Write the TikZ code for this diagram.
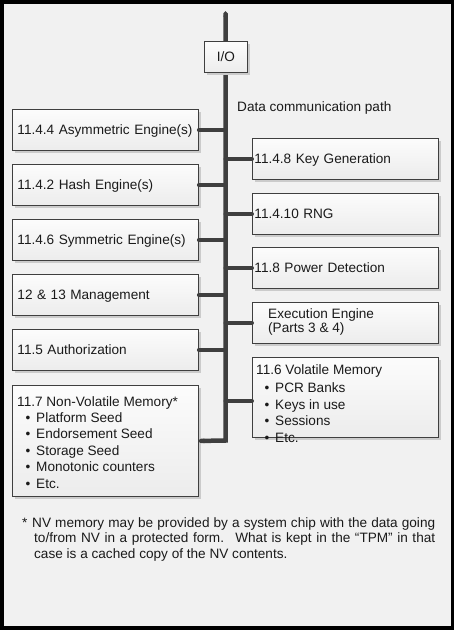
\documentclass[tikz,border=0pt]{standalone}
\usepackage{fontspec}
\setmainfont{Liberation Sans}
\usetikzlibrary{shadows,arrows.meta}
\definecolor{bgc}{HTML}{F1F1F1}
\definecolor{linec}{HTML}{3F3F3F}
\definecolor{boxtop}{HTML}{FCFCFC}
\definecolor{boxbot}{HTML}{ECECEC}
\definecolor{shadowc}{HTML}{CBCBCB}
\definecolor{txtc}{HTML}{1A1A1A}
\newcommand\bulitem{\hspace*{8.5pt}\makebox[10.5pt][l]{\textbullet}}
\begin{document}
\begin{tikzpicture}[x=1pt,y=-1pt,
  every node/.style={font=\fontsize{13.6}{16.4}\selectfont, text=txtc},
  box/.style={draw=linec, line width=0.9pt, top color=boxtop, bottom color=boxbot,
    drop shadow={shadow xshift=3pt, shadow yshift=-3pt, fill=shadowc, opacity=1},
    anchor=north west, minimum width=186pt, minimum height=41pt, inner sep=0pt},
  lbox/.style={box, text width=176pt, inner xsep=5pt, align=left, text height=11pt, text depth=1pt},
  rbox/.style={box, text width=182pt, inner xsep=2pt, align=left, text height=11pt, text depth=1pt},
  plain/.style={anchor=base west, inner sep=0pt, align=left},
  bus/.style={draw=linec, line width=4.5pt, line join=miter},
  conn/.style={draw=linec, line width=4pt, line cap=round}]
% frame and background
\fill[black] (0,0) rectangle (454,630);
\fill[bgc] (3.5,3.5) rectangle (450.5,626);
\useasboundingbox (0,0) rectangle (454,630);
% left boxes
\node[lbox] (asym) at (12,109) {11.4.4 Asymmetric Engine(s)};
\node[lbox] (hash) at (12,164) {11.4.2 Hash Engine(s)};
\node[lbox] (sym)  at (12,219) {11.4.6 Symmetric Engine(s)};
\node[lbox] (mgmt) at (12,274) {12 \& 13 Management};
\node[lbox] (auth) at (12,329) {11.5 Authorization};
\node[box, minimum height=111pt] (nv) at (12,385) {};
% anchor base = baseline of the last line
\node[plain] (nvtext) at (17,488) {11.7 Non-Volatile Memory*\\
\bulitem Platform Seed\\
\bulitem Endorsement Seed\\
\bulitem Storage Seed\\
\bulitem Monotonic counters\\
\bulitem Etc.};
% right boxes
\node[rbox] (keygen) at (252,138) {11.4.8 Key Generation};
\node[rbox] (rng)    at (252,193) {11.4.10 RNG};
\node[rbox] (power)  at (252,247) {11.8 Power Detection};
\node[box] (exec) at (252,302) {};
\node[plain] (exectext) at (268,332.4) {Execution Engine\\[-2pt](Parts 3 \& 4)};
\node[box, minimum height=80pt] (vol) at (252,357) {};
\node[plain] (voltext) at (256,442) {11.6 Volatile Memory\\[1.5pt]
\bulitem PCR Banks\\
\bulitem Keys in use\\
\bulitem Sessions\\
\bulitem Etc.};
% data bus
\coordinate (bustop) at (225.5,11);
\coordinate (busbot) at (225.5,440.5);
\draw[bus, {Triangle Cap}-{Round Cap}] (bustop) -- (busbot) -- (nv.east);
\node[plain] (dcp) at (237,111) {Data communication path};
% connectors
\foreach \b in {asym,hash,sym,mgmt,auth}{
  \draw[conn] (\b.east) -- (\b.east -| bustop);
}
\foreach \b in {keygen,rng,power,exec}{
  \draw[conn] (\b.west) -- (\b.west -| bustop);
}
\coordinate (volj) at (252,401);
\draw[conn] (volj) -- (volj -| bustop);
% I/O
\node[box, minimum width=43pt, minimum height=31pt] (io) at (204,41) {I/O};
% footnote
\node[plain] (fn) at (22,558) {\makebox[10pt][l]{*}\makebox[403pt][s]{NV memory may be provided by a system chip with the data going}\\[-1pt]
\hspace*{12pt}\makebox[401pt][s]{to/from NV in a protected form.\hspace{3.8pt} What is kept in the “TPM” in that}\\[-1pt]
\hspace*{12pt}case is a cached copy of the NV contents.};
\end{tikzpicture}
\end{document}
